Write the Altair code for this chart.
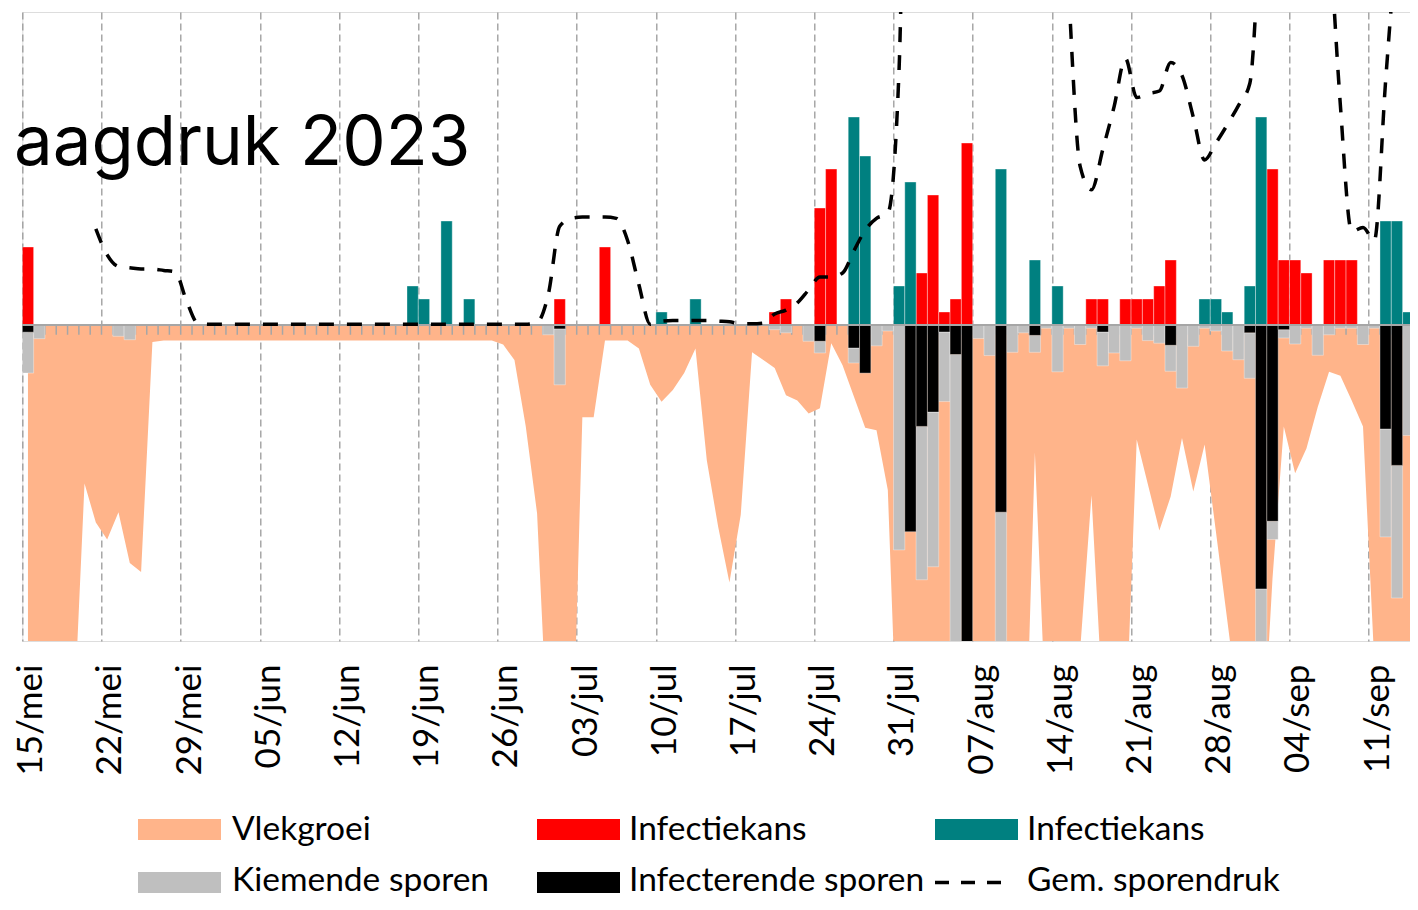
import altair as alt
import pandas as pd

# ---------------- data (day 0 = 15 May 2023, one value per day) ----------------
week_labels = ["15/mei", "22/mei", "29/mei", "05/jun", "12/jun", "19/jun", "26/jun",
               "03/jul", "10/jul", "17/jul", "24/jul", "31/jul", "07/aug", "14/aug",
               "21/aug", "28/aug", "04/sep", "11/sep"]
n_days = 124
dates = pd.date_range("2023-05-15", periods=n_days, freq="D")

infectiekans_rood = [
    6, 0, 0, 0, 0, 0, 0,
    0, 0, 0, 0, 0, 0, 0,
    0, 0, 0, 0, 0, 0, 0,
    0, 0, 0, 0, 0, 0, 0,
    0, 0, 0, 0, 0, 0, 0,
    0, 0, 0, 0, 0, 0, 0,
    0, 0, 0, 0, 0, 2, 0,
    0, 0, 6, 0, 0, 0, 0,
    0, 0, 0, 0, 0, 0, 0,
    0, 0, 0, 1, 2, 0, 0,
    9, 12, 0, 0, 0, 0, 0,
    0, 0, 4, 10, 1, 2, 14,
    0, 0, 0, 0, 0, 0, 0,
    0, 0, 0, 2, 2, 0, 2,
    2, 2, 3, 5, 0, 0, 0,
    0, 0, 0, 0, 0, 12, 5,
    5, 4, 0, 5, 5, 5, 0,
    0, 0, 0, 0, 0]

infectiekans_teal = [
    0, 0, 0, 0, 0, 0, 0,
    0, 0, 0, 0, 0, 0, 0,
    0, 0, 0, 0, 0, 0, 0,
    0, 0, 0, 0, 0, 0, 0,
    0, 0, 0, 0, 0, 0, 3,
    2, 0, 8, 0, 2, 0, 0,
    0, 0, 0, 0, 0, 0, 0,
    0, 0, 0, 0, 0, 0, 0,
    1, 0, 0, 2, 0, 0, 0,
    0, 0, 0, 0, 0, 0, 0,
    0, 0, 0, 16, 13, 0, 0,
    3, 11, 0, 0, 0, 0, 0,
    0, 0, 12, 0, 0, 5, 0,
    3, 0, 0, 0, 0, 0, 0,
    0, 0, 0, 0, 0, 0, 2,
    2, 1, 0, 3, 16, 0, 0,
    0, 0, 0, 0, 0, 0, 0,
    0, 8, 8, 1, 2]

infecterende_sporen = [
    0.55, 0, 0, 0, 0, 0, 0,
    0, 0, 0, 0, 0, 0, 0,
    0, 0, 0, 0, 0, 0, 0,
    0, 0, 0, 0, 0, 0, 0,
    0, 0, 0, 0, 0, 0, 0,
    0, 0, 0, 0, 0, 0, 0,
    0, 0, 0, 0, 0, 0.3, 0,
    0, 0, 0, 0, 0, 0, 0,
    0, 0, 0, 0, 0, 0, 0,
    0, 0, 0, 0, 0, 0, 0,
    1.25, 0, 0, 1.77, 3.7, 0, 0,
    0, 15.9, 7.8, 6.7, 0.54, 2.27, 30,
    0, 0, 14.4, 0, 0, 0.8, 0,
    0, 0, 0, 0, 0.54, 0, 0,
    0, 0, 0, 1.56, 0, 0, 0,
    0, 0, 0, 0.6, 20.3, 15.1, 0.36,
    0, 0, 0, 0, 0, 0, 0,
    0, 8.0, 10.8, 0, 0.36]

kiemende_sporen = [
    3.15, 1.05, 0, 0, 0, 0, 0,
    0, 0.87, 1.13, 0, 0, 0, 0,
    0, 0, 0, 0, 0, 0, 0,
    0, 0, 0, 0, 0, 0, 0,
    0, 0, 0, 0, 0, 0, 0,
    0, 0, 0, 0, 0, 0, 0,
    0, 0, 0, 0, 0.75, 4.3, 0,
    0, 0, 0, 0, 0, 0, 0,
    0, 0, 0, 0, 0, 0, 0,
    0, 0, 0, 0.36, 0.6, 0, 1.25,
    0.9, 0, 0, 1.15, 0, 1.6, 0.46,
    17.3, 0, 11.8, 11.9, 5.35, 25, 0,
    1.04, 2.35, 12, 2.1, 0.6, 1.3, 0.25,
    3.6, 0.25, 1.5, 0.25, 2.6, 2.15, 2.75,
    0.25, 1.2, 1.4, 2.0, 4.85, 1.64, 0.25,
    0.46, 2.0, 2.67, 3.5, 8, 1.4, 0.64,
    1.46, 0.25, 2.33, 0.75, 0.25, 0.25, 1.5,
    0.25, 8.3, 10.2, 8.5, 8]

vlekgroei = [
    -30, -30, -30, -30, -31.5, -12.2, -15.2,
    -16.5, -14.4, -18.3, -19.0, -1.3, -1.2, -1.2,
    -1.2, -1.2, -1.2, -1.2, -1.2, -1.2, -1.2,
    -1.2, -1.2, -1.2, -1.2, -1.2, -1.2, -1.2,
    -1.2, -1.2, -1.2, -1.2, -1.2, -1.2, -1.2,
    -1.2, -1.2, -1.2, -1.2, -1.2, -1.2, -1.2,
    -1.5, -2.7, -7.8, -14.5, -33, -34, -38,
    -7.1, -7.1, -1.2, -1.2, -1.2, -1.8, -4.6,
    -5.9, -5.0, -3.7, -1.8, -10.4, -15.5, -19.8,
    -14.6, -2.1, -2.7, -3.3, -5.4, -5.8, -6.8,
    -6.4, -1.4, -3.1, -5.5, -7.9, -8.1, -12.7,
    -36.8, -35, -35, -35, -35, -35, -35,
    -35, -35, -35, -35, -39, -9.8, -31,
    -35, -35, -25, -13.1, -29.3, -35, -31.8,
    -8.8, -12.3, -15.8, -13.2, -8.7, -12.8, -9.2,
    -15.9, -22.7, -29.5, -35, -35, -19.5, -7.8,
    -11.4, -9.5, -6.3, -3.6, -3.9, -5.8, -7.8,
    -26, -35, -35, -35, -35]

sporendruk = [
    None, None, None, None, None, None, 7.4,
    5.4, 4.5, 4.4, 4.3, 4.3, 4.2, 4.1,
    1.9, 0.15, 0.05, 0.05, 0.05, 0.05, 0.05,
    0.05, 0.05, 0.05, 0.05, 0.05, 0.05, 0.05,
    0.05, 0.05, 0.05, 0.05, 0.05, 0.05, 0.05,
    0.05, 0.05, 0.05, 0.05, 0.05, 0.05, 0.05,
    0.05, 0.05, 0.05, 0.2, 2.4, 7.6, 8.2,
    8.3, 8.3, 8.3, 8.2, 6.5, 3.1, 0.05,
    0.3, 0.35, 0.35, 0.35, 0.35, 0.3, 0.25,
    0.1, 0.1, 0.15, 0.85, 1.15, 1.7, 2.7,
    3.7, 3.7, 4.0, 5.7, 7.3, 8.2, 8.6,
    19.8, 60, 60, 60, 60, 60, 55,
    55, 50, 50, 55, 55, 50, 50,
    45, 25.5, 12.2, 10.4, 13.5, 16.8, 20.5,
    17.5, 17.8, 18.0, 20.2, 19.2, 16, 12.7,
    14, 15.4, 16.9, 18.6, 32, 45, 50,
    50, 50, 45, 31, 16.9, 7.2, 7.5,
    6.5, 18.8, 30, 40, 45]

legend_labels = ["Vlekgroei", "Infectiekans", "Infectiekans",
                 "Kiemende sporen", "Infecterende sporen", "Gem. sporendruk"]
legend_colors = ["#FFB48A", "#FF0000", "#008080", "#BFBFBF", "#000000", "#000000"]

# ---------------- layout constants (page pixels) ----------------
SVG_W = 1402
SVG_H = 890
DAY_PX = 11.314
X0_PAGE = 22.3
Y0_PAGE = 12
PLOT_W = (8 + SVG_W) - X0_PAGE
PLOT_H = 629
X_MAX = PLOT_W / DAY_PX
Y_TOP = 24.08
Y_BOT = -24.31

df = pd.DataFrame({
    "datum": dates,
    "d": list(range(n_days)),
    "rood": infectiekans_rood,
    "teal": infectiekans_teal,
    "zwart": infecterende_sporen,
    "grijs": kiemende_sporen,
    "vlek": vlekgroei,
    "druk": sporendruk,
})
df["d1"] = df["d"] + 1
df["dc"] = df["d"] + 0.5
df["zwart_neg"] = -df["zwart"]
df["grijs_neg"] = -(df["zwart"] + df["grijs"])
df["zero"] = 0.0

label_js = "[" + ",".join("'%s'" % s for s in week_labels) + "]"
xscale = alt.Scale(domain=[0, X_MAX], nice=False, zero=False)
yscale = alt.Scale(domain=[Y_BOT, Y_TOP], nice=False, zero=False)
xaxis = alt.Axis(values=list(range(0, 120, 7)), grid=True, gridDash=[7, 4],
                 gridColor="#9a9a9a", gridWidth=1.3, domain=False, ticks=False,
                 tickSize=0, labelAngle=270, labelFont="Lato", labelFontSize=35,
                 labelColor="#000000", labelPadding=23, labelOffset=8.5,
                 labelExpr=label_js + "[round(datum.value/7)]",
                 labelOverlap=False, labelFlush=False, title=None)

base = alt.Chart(df)

area = base.mark_area(color="#FFB48A", clip=True).encode(
    x=alt.X("dc:Q", scale=xscale, axis=xaxis),
    y=alt.Y("vlek:Q", scale=yscale, axis=None),
    y2=alt.Y2("zero:Q"),
)

ticks = base.mark_rule(color="#A6A6A6", strokeWidth=1.5, clip=True).encode(
    x=alt.X("d:Q", scale=xscale, axis=xaxis),
    y=alt.Y("zero:Q", scale=yscale, axis=None),
    y2=alt.datum(-0.75),
)

bar_style = dict(stroke="white", strokeWidth=0.7, strokeOpacity=0.5, clip=True)

red = base.transform_filter("datum.rood > 0").mark_rect(color="#FF0000", **bar_style).encode(
    x=alt.X("d:Q", scale=xscale, axis=xaxis), x2="d1:Q",
    y=alt.Y("rood:Q", scale=yscale, axis=None), y2="zero:Q")

teal = base.transform_filter("datum.teal > 0").mark_rect(color="#008080", **bar_style).encode(
    x=alt.X("d:Q", scale=xscale, axis=xaxis), x2="d1:Q",
    y=alt.Y("teal:Q", scale=yscale, axis=None), y2="zero:Q")

black = base.transform_filter("datum.zwart > 0").mark_rect(color="#000000", **bar_style).encode(
    x=alt.X("d:Q", scale=xscale, axis=xaxis), x2="d1:Q",
    y=alt.Y("zwart_neg:Q", scale=yscale, axis=None), y2="zero:Q")

gray = base.transform_filter("datum.grijs > 0").mark_rect(color="#BFBFBF", **bar_style).encode(
    x=alt.X("d:Q", scale=xscale, axis=xaxis), x2="d1:Q",
    y=alt.Y("grijs_neg:Q", scale=yscale, axis=None), y2="zwart_neg:Q")

zero_line = base.mark_rule(color="#A6A6A6", strokeWidth=2).encode(
    y=alt.Y("zero:Q", scale=yscale, axis=None))

line = base.transform_filter("isValid(datum.druk)").mark_line(
    color="#000000", strokeWidth=3.5, strokeDash=[15, 13], interpolate="monotone",
    clip=True).encode(
    x=alt.X("dc:Q", scale=xscale, axis=xaxis),
    y=alt.Y("druk:Q", scale=yscale, axis=None))

title = alt.Chart(pd.DataFrame({"t": ["aagdruk 2023"]})).mark_text(
    font="Inter", fontSize=69, align="left", baseline="alphabetic", color="#000000"
).encode(x=alt.value(14 - X0_PAGE), y=alt.value(165 - Y0_PAGE), text="t:N")

# legend (pixel layout below the plot area)
sw_x1 = [138, 537, 935, 138, 537]
sw_y1 = [819, 819, 819, 872, 872]
leg_rect_df = pd.DataFrame({
    "label": legend_labels[:5],
    "color": legend_colors[:5],
    "x1": [v - X0_PAGE for v in sw_x1],
    "x2": [v + 83 - X0_PAGE for v in sw_x1],
    "y1": [v - Y0_PAGE for v in sw_y1],
    "y2": [v + 21 - Y0_PAGE for v in sw_y1],
})
leg_rects = alt.Chart(leg_rect_df).mark_rect().encode(
    x=alt.X("x1:Q", scale=None), x2="x2:Q",
    y=alt.Y("y1:Q", scale=None), y2="y2:Q",
    color=alt.Color("color:N", scale=None))

leg_dash_df = pd.DataFrame({"x1": [935 - X0_PAGE], "x2": [1005 - X0_PAGE], "y": [882.5 - Y0_PAGE]})
leg_dash = alt.Chart(leg_dash_df).mark_rule(color="#000000", strokeWidth=3.5,
                                            strokeDash=[14, 12]).encode(
    x=alt.X("x1:Q", scale=None), x2="x2:Q", y=alt.Y("y:Q", scale=None))

leg_text_df = pd.DataFrame({
    "label": legend_labels,
    "tx": [v - X0_PAGE for v in [232, 629, 1027, 232, 629, 1027]],
    "ty": [v - Y0_PAGE for v in [840, 840, 840, 891, 891, 891]],
})
leg_text = alt.Chart(leg_text_df).mark_text(
    font="Lato", fontSize=33.5, align="left", baseline="alphabetic", color="#000000"
).encode(x=alt.X("tx:Q", scale=None), y=alt.Y("ty:Q", scale=None), text="label:N")

chart = alt.layer(area, ticks, gray, black, red, teal, zero_line, line, title,
                  leg_rects, leg_dash, leg_text).properties(
    width=PLOT_W, height=PLOT_H,
    autosize=alt.AutoSizeParams(type="none"),
    padding={"left": X0_PAGE - 8, "top": Y0_PAGE - 8, "right": 0,
             "bottom": SVG_H - (Y0_PAGE - 8) - PLOT_H},
).configure_view(stroke=None).configure(background="white")

chart.save("out.html", embed_options={"renderer": "svg", "actions": False})
